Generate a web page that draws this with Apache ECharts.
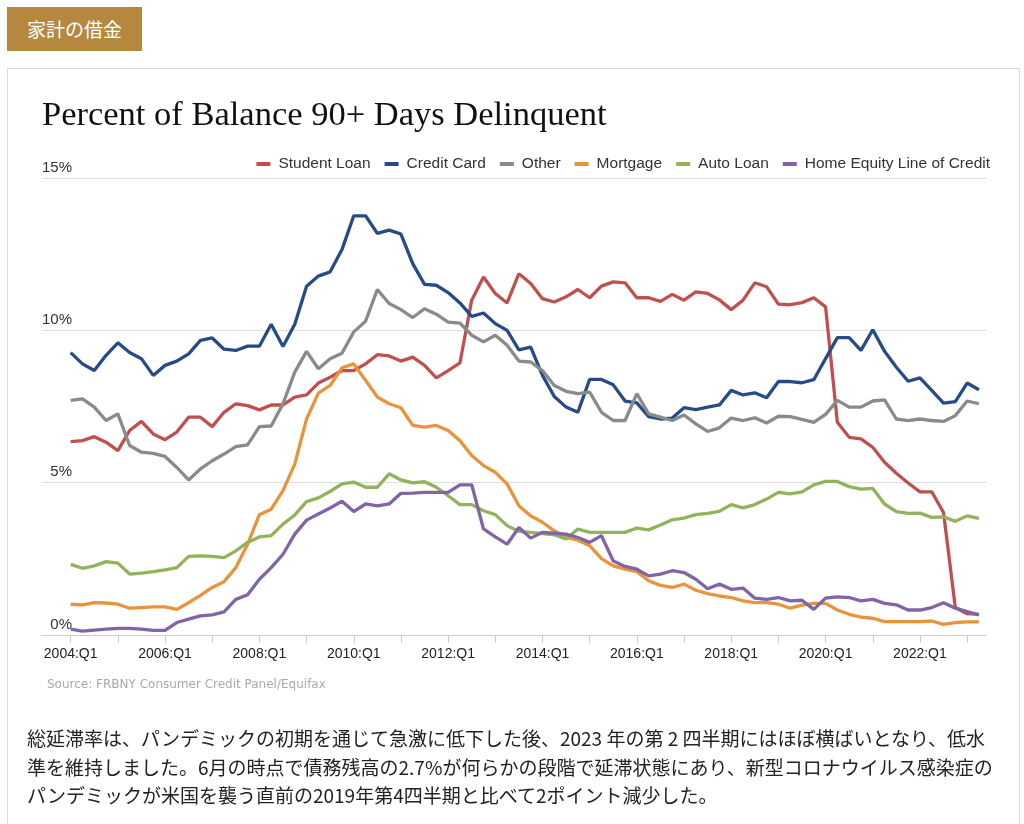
<!DOCTYPE html>
<html>
<head>
<meta charset="utf-8">
<script src="https://cdn.jsdelivr.net/npm/echarts@6/dist/echarts.min.js"></script>
<style>
  html, body { margin: 0; padding: 0; background: #fff; width: 1024px; height: 824px; overflow: hidden; }
  #tag { position: absolute; left: 7px; top: 7px; width: 135px; height: 44px; background: #b5873f;
         color: #fff; font: 19px "Noto Sans CJK JP", sans-serif; line-height: 44px; text-align: center; }
  #panel { position: absolute; left: 7px; top: 68px; width: 1013px; height: 800px; border: 1px solid #dcdcdc; box-sizing: border-box; }
  #chart { position: absolute; left: 0; top: 0; width: 1024px; height: 824px; }
  #para { position: absolute; left: 27px; top: 724px; font: 19px "Noto Sans CJK JP", sans-serif; line-height: 28.5px;
          color: #222; white-space: nowrap; }
</style>
</head>
<body>
<div id="tag">家計の借金</div>
<div id="panel"></div>
<div id="chart"></div>
<div id="para">総延滞率は、パンデミックの初期を通じて急激に低下した後、2023 年の第 2 四半期にはほぼ横ばいとなり、低水<br>準を維持しました。6月の時点で債務残高の2.7%が何らかの段階で延滞状態にあり、新型コロナウイルス感染症の<br>パンデミックが米国を襲う直前の2019年第4四半期と比べて2ポイント減少した。</div>
<script>
// Quarters 2004:Q1 .. 2023:Q2
const quarters = [];
for (let y = 2004; y <= 2023; y++) for (let q = 1; q <= 4; q++) if (!(y === 2023 && q > 2)) quarters.push(y + ':Q' + q);

const tickLabels = ['2004:Q1','2006:Q1','2008:Q1','2010:Q1','2012:Q1','2014:Q1','2016:Q1','2018:Q1','2020:Q1','2022:Q1'];
const yTicks = [0, 5, 10, 15];

const studentLoan = [6.35,6.38,6.51,6.33,6.05,6.71,7.01,6.60,6.41,6.66,7.15,7.15,6.84,7.31,7.59,7.53,7.39,7.55,7.55,7.81,7.88,8.27,8.46,8.68,8.68,8.90,
  9.20,9.16,8.99,9.12,8.85,8.44,8.68,8.93,10.99,11.75,11.21,10.90,11.86,11.54,11.04,10.93,11.10,11.34,11.07,11.45,11.59,11.56,11.07,11.07,10.95,11.18,
  10.99,11.26,11.21,11.00,10.68,10.99,11.56,11.43,10.86,10.84,10.91,11.07,10.77,6.98,6.49,6.44,6.16,5.67,5.31,4.99,4.70,4.70,4.02,0.90,0.70,0.68];
const creditCard = [9.27,8.90,8.68,9.18,9.59,9.27,9.07,8.52,8.85,8.99,9.23,9.67,9.75,9.38,9.34,9.48,9.48,10.20,9.47,10.20,11.45,11.78,11.92,12.65,13.76,13.76,
  13.18,13.29,13.16,12.19,11.51,11.48,11.24,10.90,10.46,10.57,10.22,10.00,9.36,9.45,8.52,7.83,7.48,7.31,8.39,8.39,8.21,7.68,7.62,7.17,7.09,7.12,
  7.46,7.40,7.48,7.55,8.03,7.88,7.95,7.79,8.32,8.32,8.28,8.38,9.07,9.76,9.76,9.34,10.02,9.31,8.79,8.33,8.44,8.03,7.61,7.66,8.27,8.05];
const other = [7.70,7.75,7.48,7.04,7.26,6.22,6.00,5.96,5.86,5.50,5.09,5.45,5.72,5.94,6.18,6.24,6.84,6.86,7.59,8.63,9.31,8.74,9.07,9.25,9.95,10.30,
  11.34,10.88,10.68,10.42,10.71,10.53,10.27,10.24,9.84,9.62,9.84,9.51,8.99,8.96,8.68,8.19,8.00,7.92,7.97,7.31,7.04,7.04,7.92,7.26,7.15,7.04,
  7.22,6.93,6.68,6.80,7.12,7.04,7.13,6.96,7.18,7.17,7.08,6.98,7.24,7.70,7.48,7.48,7.68,7.72,7.09,7.04,7.09,7.04,7.01,7.20,7.68,7.59];
const mortgage = [1.01,0.99,1.06,1.05,1.01,0.88,0.90,0.92,0.92,0.84,1.06,1.30,1.56,1.75,2.21,2.98,3.95,4.13,4.74,5.61,7.09,7.94,8.19,8.77,8.90,8.36,
  7.81,7.59,7.46,6.88,6.82,6.88,6.71,6.38,5.89,5.56,5.34,4.96,4.24,3.91,3.70,3.42,3.20,3.11,2.93,2.51,2.27,2.16,2.08,1.78,1.63,1.56,
  1.67,1.47,1.36,1.28,1.23,1.12,1.06,1.06,1.01,0.88,0.98,1.04,1.04,0.82,0.68,0.59,0.55,0.44,0.44,0.44,0.44,0.46,0.35,0.41,0.43,0.43];
const autoLoan = [2.32,2.19,2.27,2.41,2.36,2.00,2.03,2.08,2.14,2.21,2.58,2.60,2.58,2.54,2.76,3.04,3.22,3.26,3.64,3.94,4.38,4.50,4.71,4.96,5.02,4.85,
  4.85,5.29,5.09,4.99,5.03,4.85,4.57,4.28,4.28,4.08,3.95,3.59,3.40,3.37,3.33,3.29,3.15,3.48,3.37,3.37,3.37,3.37,3.51,3.45,3.61,3.78,
  3.84,3.95,3.99,4.06,4.28,4.17,4.28,4.46,4.68,4.63,4.70,4.93,5.04,5.04,4.87,4.79,4.81,4.30,4.05,3.99,4.00,3.86,3.88,3.73,3.91,3.83];
const heloc = [0.19,0.13,0.16,0.19,0.22,0.22,0.19,0.15,0.15,0.41,0.52,0.63,0.66,0.76,1.17,1.32,1.83,2.21,2.65,3.31,3.77,3.97,4.17,4.39,4.05,4.30,
  4.24,4.30,4.65,4.66,4.68,4.68,4.68,4.93,4.93,3.48,3.22,2.98,3.53,3.18,3.37,3.34,3.31,3.20,3.04,3.26,2.43,2.25,2.16,1.94,2.00,2.11,
  2.05,1.83,1.52,1.67,1.50,1.54,1.21,1.17,1.23,1.12,1.14,0.84,1.21,1.25,1.23,1.12,1.17,1.04,0.99,0.82,0.82,0.90,1.06,0.88,0.77,0.66];

const seriesNames = ['Student Loan','Credit Card','Other','Mortgage','Auto Loan','Home Equity Line of Credit'];
const seriesData = [studentLoan, creditCard, other, mortgage, autoLoan, heloc];
const colors = ['#c0504d','#264b88','#8a8a8a','#e9943a','#94b25a','#8064a8'];

const labelIdx = tickLabels.map(t => quarters.indexOf(t));
const tickIdx = quarters.map((q, i) => i).filter(i => i % 4 === 0);

const chart = echarts.init(document.getElementById('chart'), null, { renderer: 'canvas' });
chart.setOption({
  animation: false,
  color: colors,
  title: {
    text: 'Percent of Balance 90+ Days Delinquent',
    left: 37, top: 93,
    textStyle: { fontFamily: '"Liberation Serif", serif', fontSize: 34.5, fontWeight: 'normal', color: '#111' }
  },
  legend: {
    right: 29, top: 151,
    icon: 'rect', itemWidth: 14, itemHeight: 4, itemGap: 14,
    textStyle: { fontFamily: '"Liberation Sans", Arial, sans-serif', fontSize: 15.5, color: '#333', padding: [0, 0, 0, 3] },
    data: seriesNames
  },
  graphic: [{
    type: 'text', left: 47, top: 679,
    style: { text: 'Source: FRBNY Consumer Credit Panel/Equifax', fill: '#aaa', font: '12px "DejaVu Sans", sans-serif' }
  }],
  grid: { left: 42, right: 38, top: 178, bottom: 189, containLabel: false },
  xAxis: {
    type: 'value', min: -2.43, max: 77.6,
    axisLine: { show: true, lineStyle: { color: '#cccccc', width: 1 } },
    axisTick: { show: true, customValues: tickIdx, length: 8, lineStyle: { color: '#cccccc' } },
    axisLabel: { customValues: labelIdx, formatter: v => quarters[Math.round(v)], margin: 12,
                 fontFamily: '"Liberation Sans", Arial, sans-serif', fontSize: 14, color: '#222' },
    splitLine: { show: false }
  },
  yAxis: {
    type: 'value', min: yTicks[0], max: yTicks[yTicks.length - 1], interval: 5,
    axisLine: { show: false }, axisTick: { show: false },
    axisLabel: { inside: true, align: 'right', verticalAlign: 'bottom', margin: 30, padding: [0, 0, 3, 0],
                 formatter: '{value}%', fontFamily: '"Liberation Sans", Arial, sans-serif', fontSize: 15, color: '#333' },
    splitLine: { lineStyle: { color: '#dddddd', width: 1 } }
  },
  series: seriesNames.map((name, k) => ({
    name, type: 'line', showSymbol: false, symbol: 'none',
    lineStyle: { width: 3.3, color: colors[k] },
    itemStyle: { color: colors[k] },
    data: seriesData[k].map((v, i) => [i, v])
  }))
});
</script>
</body>
</html>
